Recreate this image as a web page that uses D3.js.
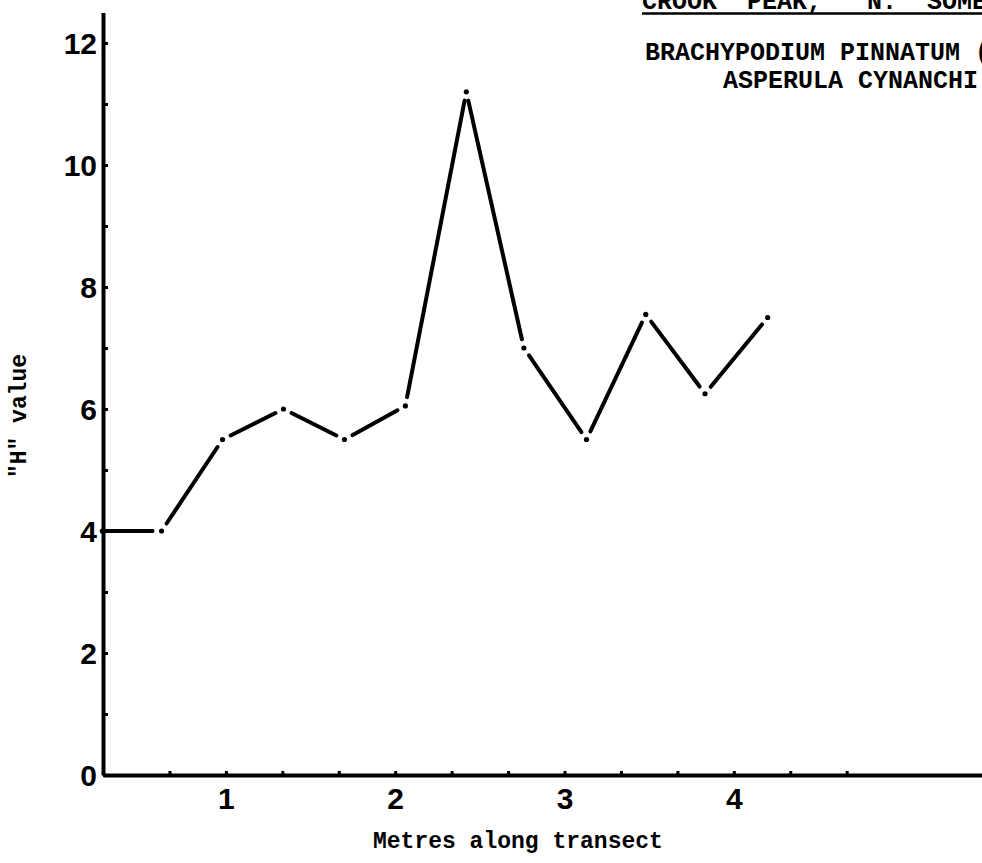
<!DOCTYPE html>
<html>
<head>
<meta charset="utf-8">
<script src="https://cdn.jsdelivr.net/npm/d3@7"></script>
<style>
  body { margin: 0; background: #fff; }
  svg { display: block; }
  .tick text { font-family: "Liberation Sans", Arial, sans-serif; font-weight: bold; font-size: 30px; fill: #000; }
  .mono { font-family: "Liberation Mono", "Courier New", monospace; font-weight: bold; fill: #000; white-space: pre; }
</style>
</head>
<body>
<svg width="982" height="863"></svg>
<script>
const WIDTH = 982;
const HEIGHT = 863;

// metres along transect and "H" value at each point
const metres = [0.27, 0.62, 0.98, 1.34, 1.70, 2.06, 2.42, 2.76, 3.13, 3.48, 3.83, 4.20];
const hValues = [4.0, 4.0, 5.5, 6.0, 5.5, 6.05, 11.2, 7.0, 5.5, 7.55, 6.25, 7.5];

const yTicks = d3.range(0, 13);              // every unit, labels on even ones
const xTicks = d3.range(2, 15).map(i => i / 3); // every third of a metre
const titleLines = ["CROOK  PEAK,   N.  SOMER", "BRACHYPODIUM PINNATUM (", "ASPERULA CYNANCHI"];

let svg = d3.select("svg");

let x = d3.scaleLinear()
          .domain([0.274, 5.466])
          .range([103, 982]);

let y = d3.scaleLinear()
          .domain([0, 12.5])
          .range([775, 12.5]);

// y axis, ticks pointing into the plot
let yAxis = svg.append("g")
               .attr("transform", "translate(103,0)")
               .call(d3.axisLeft(y)
                       .tickValues(yTicks)
                       .tickSize(-5)
                       .tickSizeOuter(0)
                       .tickPadding(6)
                       .tickFormat(d => d % 2 === 0 ? d : ""));
yAxis.select(".domain").attr("stroke-width", 4);
yAxis.selectAll(".tick line").attr("stroke-width", 3);
yAxis.selectAll(".tick text").attr("dy", "0.36em");

// x axis
let xAxis = svg.append("g")
               .attr("transform", "translate(0,775)")
               .call(d3.axisBottom(x)
                       .tickValues(xTicks)
                       .tickSize(-4)
                       .tickSizeOuter(0)
                       .tickPadding(13)
                       .tickFormat(d => Math.abs(d - Math.round(d)) < 1e-9 ? Math.round(d) : ""));
xAxis.select(".domain").attr("stroke-width", 4);
xAxis.selectAll(".tick line").attr("stroke-width", 3);

// the trace: short segments that stop just before each dot
const pts = metres.map((m, i) => [x(m), y(hValues[i])]);
const GAP = 9;
let segs = d3.pairs(pts).map(([a, b], i) => {
  let dx = b[0] - a[0], dy = b[1] - a[1];
  let len = Math.hypot(dx, dy);
  let ux = dx / len, uy = dy / len;
  let g0 = i === 0 ? 1 : GAP; // first run starts right on the axis
  return [[a[0] + ux * g0, a[1] + uy * g0], [b[0] - ux * GAP, b[1] - uy * GAP]];
});

svg.append("g")
   .selectAll("line")
   .data(segs)
   .enter().append("line")
   .attr("x1", d => d[0][0])
   .attr("y1", d => d[0][1])
   .attr("x2", d => d[1][0])
   .attr("y2", d => d[1][1])
   .attr("stroke", "#000")
   .attr("stroke-width", 4)
   .attr("stroke-linecap", "round");

svg.append("g")
   .selectAll("circle")
   .data(pts)
   .enter().append("circle")
   .attr("cx", d => d[0])
   .attr("cy", d => d[1])
   .attr("r", 2.6)
   .attr("fill", "#000");

// heading, typed text style
svg.append("text").attr("class", "mono")
   .attr("x", 642).attr("y", 9)
   .style("font-size", "25px")
   .text(titleLines[0]);
svg.append("line")
   .attr("x1", 642).attr("x2", 982)
   .attr("y1", 13.5).attr("y2", 13.5)
   .attr("stroke", "#000").attr("stroke-width", 2.5);
svg.append("text").attr("class", "mono")
   .attr("x", 645).attr("y", 60)
   .style("font-size", "25px")
   .text(titleLines[1]);
svg.append("text").attr("class", "mono")
   .attr("x", 723).attr("y", 88)
   .style("font-size", "25px")
   .text(titleLines[2]);

// axis titles
svg.append("text").attr("class", "mono")
   .attr("x", 373).attr("y", 848)
   .style("font-size", "23px")
   .text("Metres along transect");

svg.append("text").attr("class", "mono")
   .attr("transform", "translate(26,416) rotate(-90)")
   .attr("text-anchor", "middle")
   .style("font-size", "23px")
   .text("\"H\" value");
</script>
</body>
</html>
